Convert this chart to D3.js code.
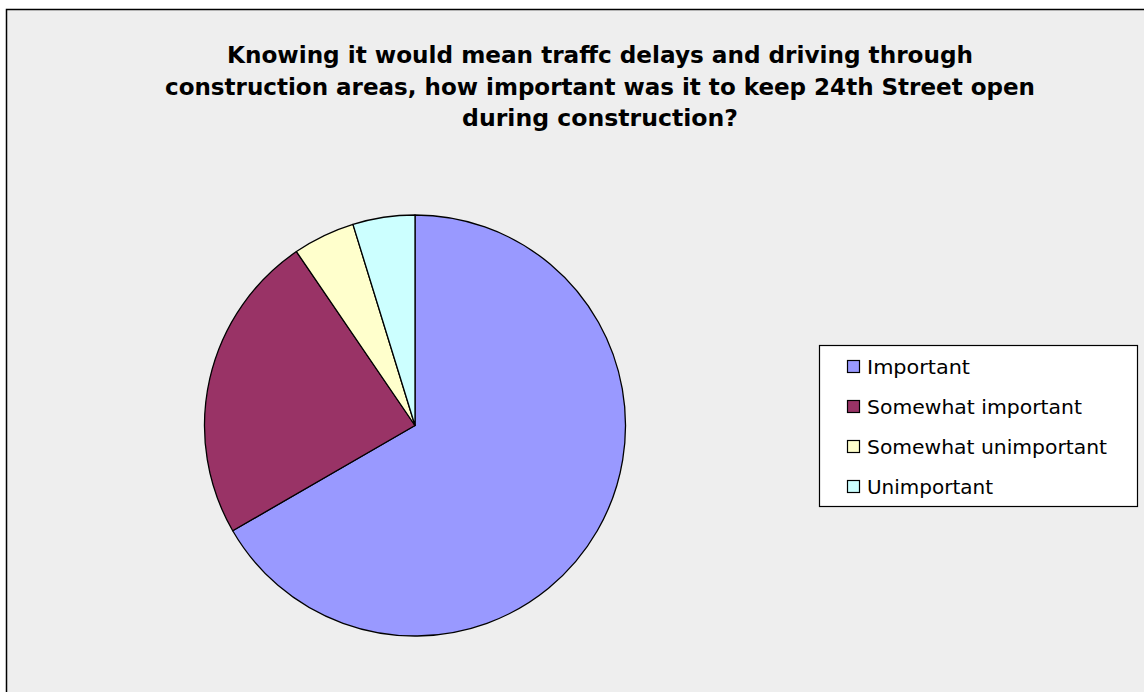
<!DOCTYPE html>
<html>
<head>
<meta charset="utf-8">
<script src="https://cdn.jsdelivr.net/npm/d3@7"></script>
<style>
  body { margin: 0; background: #fff; }
</style>
</head>
<body>
<svg id="chart" width="1144" height="692"></svg>
<script>
const categories = ["Important", "Somewhat important", "Somewhat unimportant", "Unimportant"];
const counts = [14, 5, 1, 1];
const colors = ["#9999ff", "#993366", "#ffffcc", "#ccffff"];
const titleLines = [
  "Knowing it would mean traffc delays and driving through",
  "construction areas, how important was it to keep 24th Street open",
  "during construction?"
];

const svg = d3.select("#chart");

// Chart area background + border
svg.append("rect")
  .attr("x", 6.5).attr("y", 9.5)
  .attr("width", 1150).attr("height", 700)
  .attr("fill", "#eeeeee")
  .attr("stroke", "#000").attr("stroke-width", 1.5);

// Title (widths fitted to the original rendering)
const titleWidths = [746, 870, 276];
svg.append("g").selectAll("text")
  .data(titleLines)
  .join("text")
  .attr("x", 600)
  .attr("y", (d, i) => 63 + i * 31.5)
  .attr("text-anchor", "middle")
  .attr("font-family", "DejaVu Sans, Verdana, sans-serif")
  .attr("font-weight", "bold")
  .attr("font-size", 23)
  .attr("textLength", (d, i) => titleWidths[i])
  .attr("lengthAdjust", "spacingAndGlyphs")
  .text(d => d);

// Pie
const cx = 415, cy = 425.5, r = 210.5;
const pie = d3.pie().sort(null).value(d => d)(counts);
const arc = d3.arc().innerRadius(0).outerRadius(r);
const color = d3.scaleOrdinal().domain(categories).range(colors);

svg.append("g")
  .attr("transform", `translate(${cx},${cy})`)
  .selectAll("path")
  .data(pie)
  .join("path")
  .attr("d", arc)
  .attr("fill", (d, i) => color(categories[i]))
  .attr("stroke", "#000")
  .attr("stroke-width", 1.3)
  .attr("stroke-linejoin", "round");

// Legend
const legend = svg.append("g");
legend.append("rect")
  .attr("x", 819.5).attr("y", 345.5)
  .attr("width", 318).attr("height", 161)
  .attr("fill", "#fff")
  .attr("stroke", "#000").attr("stroke-width", 1.2);

const y = d3.scalePoint().domain(categories).range([366.5, 486.5]);
const legendWidths = [103, 215, 240, 126];

const items = legend.selectAll("g.item")
  .data(categories)
  .join("g")
  .attr("class", "item")
  .attr("transform", d => `translate(0,${y(d)})`);

items.append("rect")
  .attr("x", 847.5).attr("y", -6)
  .attr("width", 12).attr("height", 12)
  .attr("fill", d => color(d))
  .attr("stroke", "#000").attr("stroke-width", 1.2);

items.append("text")
  .attr("x", 867)
  .attr("y", 7)
  .attr("font-family", "DejaVu Sans, Verdana, sans-serif")
  .attr("font-size", 20)
  .attr("textLength", (d, i) => legendWidths[i])
  .attr("lengthAdjust", "spacingAndGlyphs")
  .text(d => d);
</script>
</body>
</html>
